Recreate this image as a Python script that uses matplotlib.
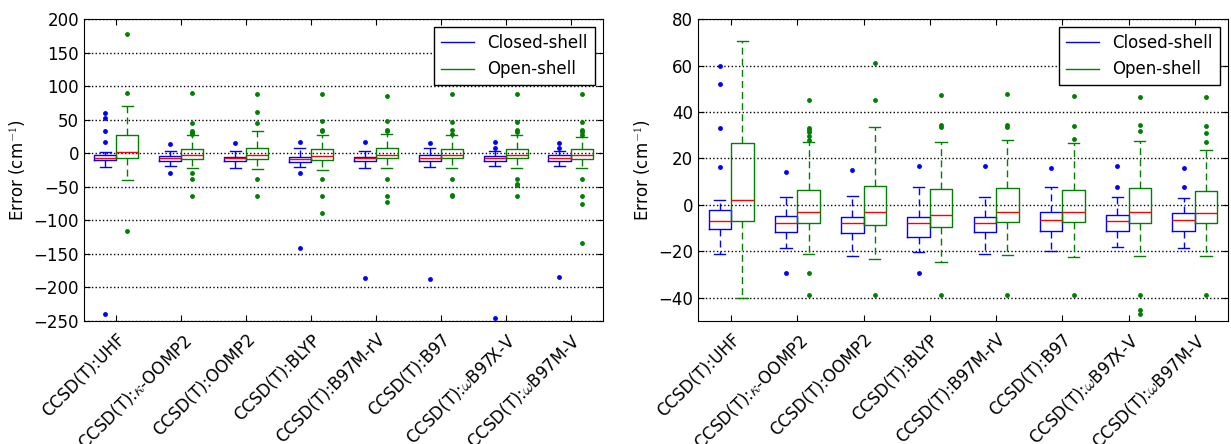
import matplotlib
matplotlib.use('Agg')
import matplotlib.pyplot as plt
from matplotlib.lines import Line2D

plt.rcParams['font.size'] = 12
plt.rcParams['font.family'] = 'DejaVu Sans'
plt.rcParams['mathtext.fontset'] = 'cm'

#method labels
labels = ['CCSD(T):UHF', r'CCSD(T):$\kappa$-OOMP2', 'CCSD(T):OOMP2',
          'CCSD(T):BLYP', 'CCSD(T):B97M-rV', 'CCSD(T):B97',
          r'CCSD(T):$\omega$B97X-V', r'CCSD(T):$\omega$B97M-V']

#closed-shell box stats
closed_med = [-7.0, -7.6, -7.6, -7.9, -7.6, -6.3, -6.9, -6.5]
closed_q1 = [-10.5, -11.8, -12.1, -13.7, -11.8, -11.1, -11.4, -11.1]
closed_q3 = [-2.0, -4.6, -5.0, -5.2, -5.0, -3.2, -4.2, -3.3]
closed_lo = [-21.0, -18.6, -22.0, -20.4, -21.3, -20.0, -18.3, -18.6]
closed_hi = [2.3, 3.2, 3.7, 7.6, 3.5, 7.8, 3.3, 3.0]
closed_fliers = [[60, 52, 33, 16.1, -240],
                 [14, -29.2],
                 [15.1],
                 [16.7, -29.4, -141.5],
                 [16.8, -186.5],
                 [15.7, -187],
                 [16.8, 7.6, -245.5],
                 [16, 7.9, -184]]

#open-shell box stats
open_med = [1.9, -3.0, -3.2, -4.2, -2.9, -3.2, -3.0, -3.3]
open_q1 = [-7.0, -7.8, -8.8, -9.4, -7.5, -7.2, -7.6, -7.9]
open_q3 = [26.5, 6.5, 8.3, 6.9, 7.3, 6.3, 7.1, 5.8]
open_lo = [-40.0, -21.3, -23.3, -24.5, -21.4, -22.4, -22.0, -22.0]
open_hi = [70.6, 27.0, 33.7, 27.2, 28.0, 26.8, 27.6, 23.7]
open_fliers = [[178, 90, -116.5],
               [90, 45.3, 33, 32.2, 31.4, 29.6, 28, -29.2, -38.7, -64],
               [88, 60.9, 45.3, -38.7, -64],
               [88, 47.5, 34.5, 33.7, -38.6, -64, -89.5],
               [86, 47.6, 34.2, 33.4, -38.6, -64, -72.5],
               [88, 47, 34.1, 28.2, -38.6, -62, -64],
               [88.5, 46.6, 34.2, 31.7, -38.6, -45.2, -46.9, -63],
               [88.5, 46.6, 34.1, 31.1, 26.9, -38.6, -64, -75, -133]]


def make_stats(med, q1, q3, lo, hi, fl):
    out = []
    for i in range(len(med)):
        out.append(dict(med=med[i], q1=q1[i], q3=q3[i], whislo=lo[i],
                        whishi=hi[i], fliers=fl[i]))
    return out


closed_stats = make_stats(closed_med, closed_q1, closed_q3, closed_lo,
                          closed_hi, closed_fliers)
open_stats = make_stats(open_med, open_q1, open_q3, open_lo,
                        open_hi, open_fliers)

w = 0.34
pos = list(range(1, len(labels) + 1))


def draw(ax, ylim, yticks):
    for stats, col, off in [(closed_stats, 'b', -w / 2),
                            (open_stats, 'g', w / 2)]:
        ax.bxp(stats, positions=[p + off for p in pos], widths=w,
               boxprops=dict(color=col, lw=1),
               whiskerprops=dict(color=col, lw=1, linestyle=(0, (5, 3))),
               capprops=dict(color=col, lw=1),
               medianprops=dict(color='r', lw=1),
               flierprops=dict(marker='o', markersize=3.5,
                               markerfacecolor=col, markeredgewidth=0,
                               linestyle='none'))
    ax.set_xlim(0.5, len(labels) + 0.5)
    ax.set_ylim(*ylim)
    ax.set_yticks(yticks)
    ax.set_xticks(pos)
    ax.set_xticklabels(labels, rotation=45, ha='right', va='top',
                       rotation_mode='anchor')
    ax.yaxis.grid(True, linestyle=':', color='k', lw=1)
    ax.set_axisbelow(True)
    ax.tick_params(direction='in', top=True, right=True, length=4)
    ax.tick_params(axis='x', pad=7)
    ax.set_ylabel('Error (cm$^{-1}$)')
    handles = [Line2D([], [], color='b', lw=1), Line2D([], [], color='g', lw=1)]
    leg = ax.legend(handles, ['Closed-shell', 'Open-shell'],
                    loc='upper right', fancybox=False, framealpha=1)
    leg.get_frame().set_edgecolor('k')


fig = plt.figure(figsize=(12.31, 4.44), dpi=100)
ax1 = fig.add_axes([0.0682, 0.277, 0.4216, 0.680])
ax2 = fig.add_axes([0.567, 0.277, 0.4305, 0.680])

draw(ax1, (-250, 200), list(range(-250, 201, 50)))
draw(ax2, (-50, 80), list(range(-40, 81, 20)))

fig.savefig('out.png', dpi=100)
